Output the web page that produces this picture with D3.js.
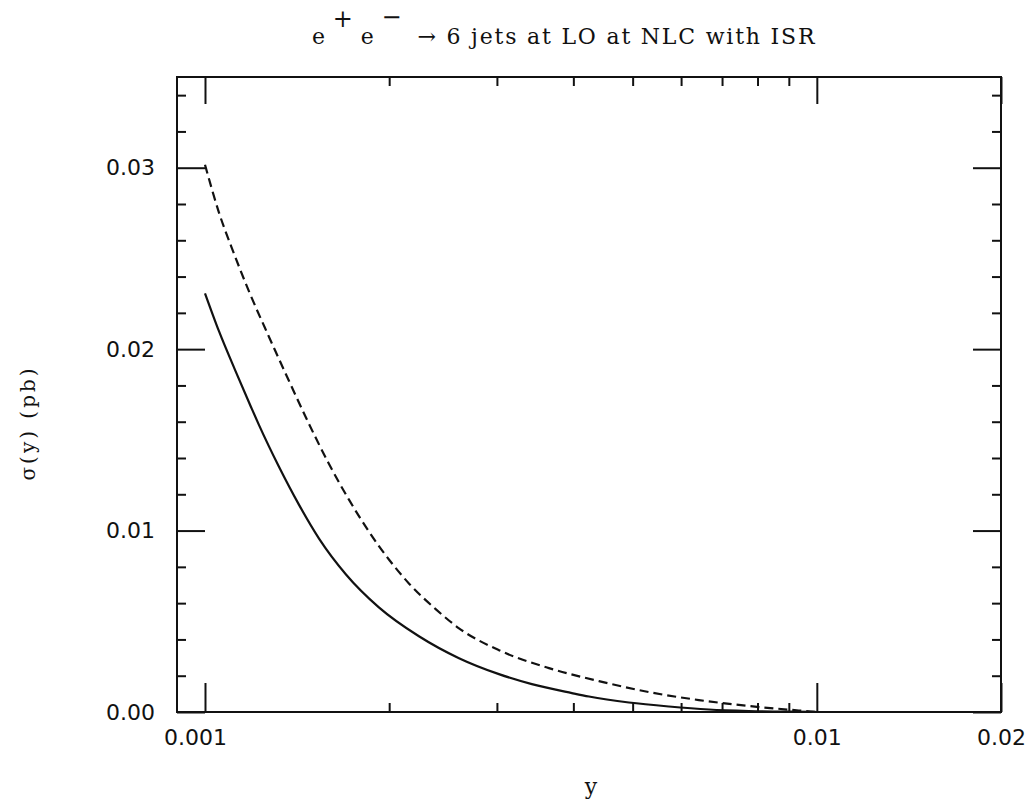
<!DOCTYPE html>
<html><head><meta charset="utf-8">
<script src="https://cdn.jsdelivr.net/npm/d3@7"></script>
<style>body{margin:0;background:#fff}</style>
</head><body>
<svg id="chart" width="1036" height="806"></svg>
<script>
// ---- data ----
const xDomain = [0.0009, 0.02];
const yDomain = [0, 0.035];
const xMajorTicks = [0.001, 0.01, 0.02];
const xTickLabels = ["0.001", "0.01", "0.02"];
const xMinorTicks = [0.002, 0.003, 0.004, 0.005, 0.006, 0.007, 0.008, 0.009];
const yMajorTicks = [0, 0.01, 0.02, 0.03];
const yTickLabels = ["0.00", "0.01", "0.02", "0.03"];
const yMinorTicks = [0.002,0.004,0.006,0.008,0.012,0.014,0.016,0.018,0.022,0.024,0.026,0.028,0.032,0.034];

// solid curve
const solidX = [0.001000,0.001054,0.001120,0.001189,0.001225,0.001321,0.001424,0.001536,0.001700,0.001924,0.002237,0.002601,0.003023,0.003422,0.003978,0.004242,0.004930,0.005731,0.006661,0.007743,0.009000,0.010000];
const solidY = [0.023077,0.020989,0.018846,0.016813,0.015824,0.013516,0.011429,0.009560,0.007582,0.005769,0.004176,0.002967,0.002088,0.001538,0.001044,0.000852,0.000522,0.000302,0.000137,0.000055,0.000016,0.000000];

// dashed curve
const dashedX = [0.001000,0.001054,0.001115,0.001180,0.001273,0.001372,0.001479,0.001594,0.001719,0.001853,0.001998,0.002154,0.002385,0.002601,0.003023,0.003649,0.004404,0.005315,0.006414,0.007743,0.009346,0.010000];
const dashedY = [0.030165,0.027527,0.025275,0.023187,0.020659,0.018242,0.015879,0.013681,0.011703,0.009945,0.008407,0.007088,0.005659,0.004615,0.003407,0.002418,0.001703,0.001099,0.000659,0.000330,0.000082,0.000000];

const titleMain = "e";
const titleSup1 = "+";
const titleMid = "e";
const titleSup2 = "\u2212";
const titleRest = "\u2192 6 jets at LO at NLC with ISR";
const xLabel = "y";
const yLabel = "\u03c3(y) (pb)";

// ---- layout ----
const L = 177, R = 1001, T = 77, B = 712;
const svg = d3.select("#chart");
const x = d3.scaleLog().domain(xDomain).range([L, R]);
const y = d3.scaleLinear().domain(yDomain).range([B, T]);
const font = "'DejaVu Sans', sans-serif";
const serif = "'DejaVu Serif', serif";
const ink = "#111";

function styleAxis(g){
  g.select(".domain").remove();
  g.selectAll(".tick line").attr("stroke", ink).attr("stroke-width", 2);
  g.selectAll("text").attr("font-family", font).attr("font-size", 22).attr("fill", ink);
}

// minor ticks (no labels)
svg.append("g").attr("transform", `translate(0,${B})`)
  .call(d3.axisBottom(x).tickValues(xMinorTicks).tickSize(-9).tickFormat(""))
  .call(styleAxis);
svg.append("g").attr("transform", `translate(0,${T})`)
  .call(d3.axisTop(x).tickValues(xMinorTicks).tickSize(-9).tickFormat(""))
  .call(styleAxis);
svg.append("g").attr("transform", `translate(${L},0)`)
  .call(d3.axisLeft(y).tickValues(yMinorTicks).tickSize(-9).tickFormat(""))
  .call(styleAxis);
svg.append("g").attr("transform", `translate(${R},0)`)
  .call(d3.axisRight(y).tickValues(yMinorTicks).tickSize(-9).tickFormat(""))
  .call(styleAxis);

// major ticks
const xAxisG = svg.append("g").attr("transform", `translate(0,${B})`)
  .call(d3.axisBottom(x).tickValues(xMajorTicks).tickSize(-29).tickPadding(17)
    .tickFormat((d,i) => xTickLabels[i]))
  .call(styleAxis);
// first label sits slightly left of its tick in the original
xAxisG.selectAll(".tick text").filter((d,i) => i === 0).attr("dx", -10);
svg.append("g").attr("transform", `translate(0,${T})`)
  .call(d3.axisTop(x).tickValues(xMajorTicks).tickSize(-27).tickFormat(""))
  .call(styleAxis);
svg.append("g").attr("transform", `translate(${L},0)`)
  .call(d3.axisLeft(y).tickValues(yMajorTicks).tickSize(-28).tickPadding(22)
    .tickFormat((d,i) => yTickLabels[i]))
  .call(styleAxis);
svg.append("g").attr("transform", `translate(${R},0)`)
  .call(d3.axisRight(y).tickValues(yMajorTicks).tickSize(-28).tickFormat(""))
  .call(styleAxis);

// frame
svg.append("rect").attr("x", L).attr("y", T).attr("width", R - L).attr("height", B - T)
  .attr("fill", "none").attr("stroke", ink).attr("stroke-width", 2);

// curves
const line = d3.line().x(d => x(d[0])).y(d => y(d[1])).curve(d3.curveMonotoneX);
const solid = solidX.map((v,i) => [v, solidY[i]]);
const dashed = dashedX.map((v,i) => [v, dashedY[i]]);
svg.append("path").datum(solid).attr("d", line)
  .attr("fill", "none").attr("stroke", ink).attr("stroke-width", 2.2);
svg.append("path").datum(dashed).attr("d", line)
  .attr("fill", "none").attr("stroke", ink).attr("stroke-width", 2.2)
  .attr("stroke-dasharray", "9,5");

// title
const t = svg.append("text").attr("x", 312).attr("y", 44)
  .attr("font-family", serif).attr("font-size", 22).attr("letter-spacing", 1.8).attr("fill", ink);
t.append("tspan").text(titleMain);
t.append("tspan").attr("dx", 6).attr("dy", -17).attr("font-size", 24).text(titleSup1);
t.append("tspan").attr("dx", 6).attr("dy", 17).text(titleMid);
t.append("tspan").attr("dx", 6).attr("dy", -19).attr("font-size", 24).text(titleSup2);
t.append("tspan").attr("dx", 14).attr("dy", 19).text(titleRest);

// axis labels
svg.append("text").attr("x", 591).attr("y", 794).attr("text-anchor", "middle")
  .attr("font-family", serif).attr("font-size", 22).attr("fill", ink).text(xLabel);
svg.append("text").attr("transform", "translate(35,423) rotate(-90)").attr("text-anchor", "middle")
  .attr("font-family", serif).attr("font-size", 20).attr("letter-spacing", 3).attr("fill", ink).text(yLabel);
</script>
</body></html>
